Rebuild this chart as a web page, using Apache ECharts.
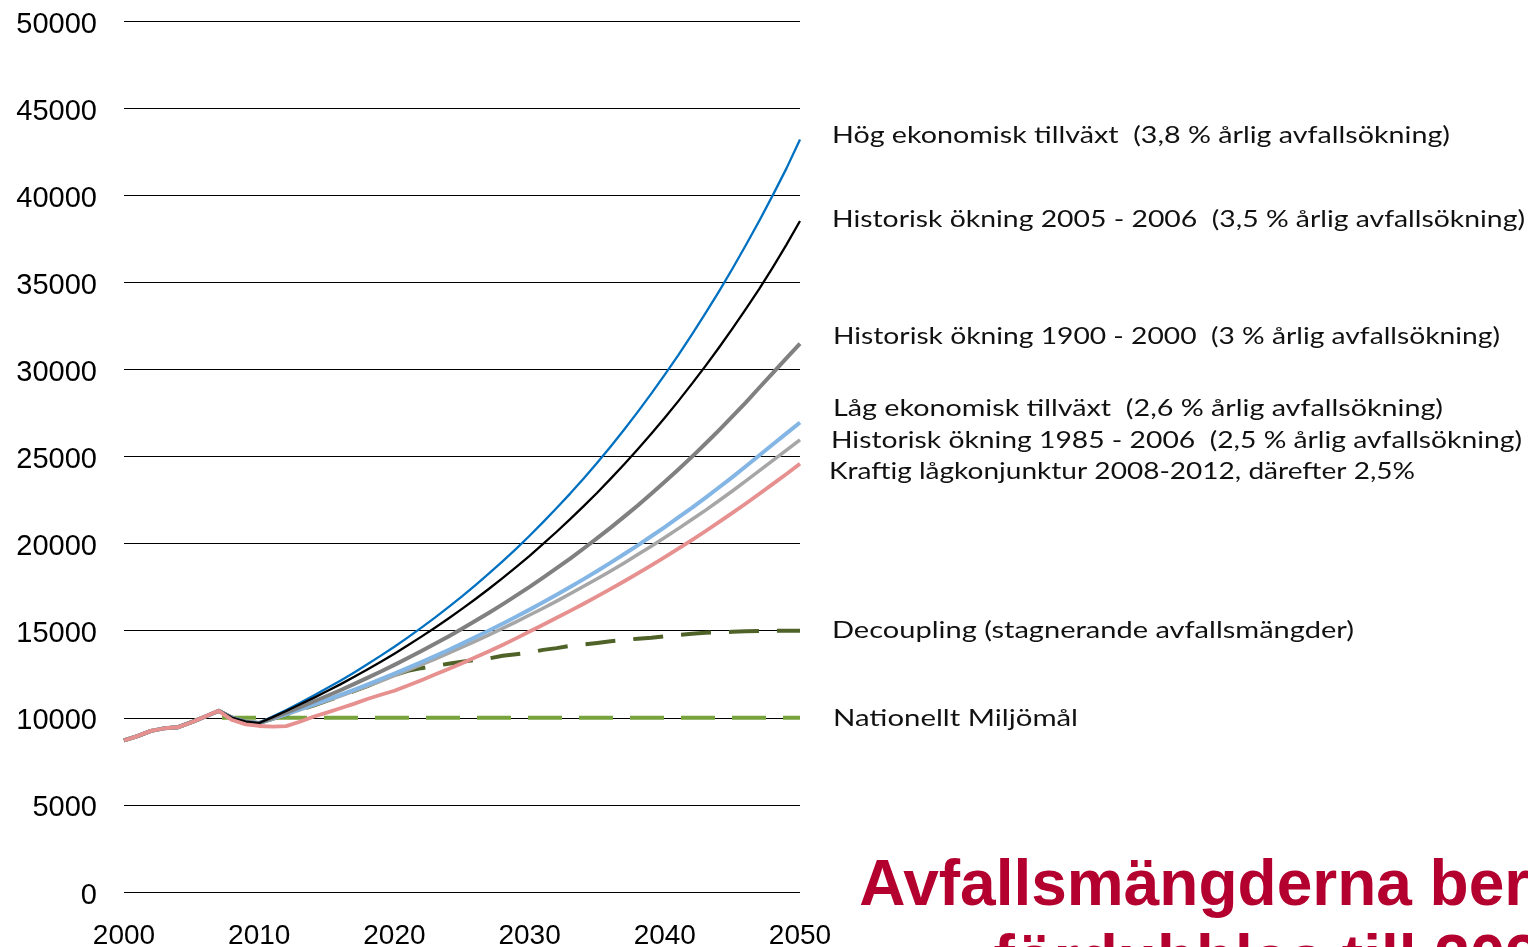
<!DOCTYPE html>
<html>
<head>
<meta charset="utf-8">
<title>Avfallsmängder</title>
<script src="https://cdn.jsdelivr.net/npm/echarts@6/dist/echarts.min.js"></script>
<style>
  html, body { margin: 0; padding: 0; background: #fff; }
  #chart { width: 1528px; height: 947px; }
</style>
</head>
<body>
<div id="chart"></div>
<script>
// data (kton per år), läst från bilden
var xTicks = [2000, 2010, 2020, 2030, 2040, 2050];
var yTicks = [0, 5000, 10000, 15000, 20000, 25000, 30000, 35000, 40000, 45000, 50000];

// historik 2000-2009 (gemensam för alla linjer)
var historik = [8700, 8950, 9250, 9400, 9460, 9750, 10070, 10400, 10000, 9780];

// scenarier 2010-2050
var hogTillvaxt = [9700, 10070, 10450, 10850, 11260, 11690, 12130, 12590, 13070, 13570, 14080,
  14620, 15180, 15750, 16350, 16970, 17620, 18290, 18980, 19700, 20450,
  21230, 22040, 22870, 23740, 24640, 25580, 26550, 27560, 28610, 29700,
  30820, 32000, 33210, 34470, 35780, 37140, 38550, 40020, 41540, 43200];
var hist0506 = [9700, 10040, 10390, 10760, 11130, 11520, 11920, 12340, 12770, 13220, 13680,
  14160, 14660, 15170, 15700, 16250, 16820, 17410, 18020, 18650, 19300,
  19980, 20680, 21400, 22150, 22920, 23730, 24560, 25420, 26310, 27230,
  28180, 29170, 30190, 31240, 32340, 33470, 34640, 35870, 37160, 38520];
var hist1900 = [9700, 9990, 10290, 10600, 10920, 11250, 11580, 11930, 12290, 12660, 13040,
  13430, 13830, 14250, 14670, 15110, 15570, 16030, 16510, 17010, 17520,
  18050, 18590, 19140, 19720, 20310, 20920, 21550, 22190, 22860, 23550,
  24250, 24980, 25730, 26500, 27300, 28110, 28960, 29800, 30650, 31480];
var lagTillvaxt = [9700, 9950, 10210, 10480, 10750, 11030, 11320, 11610, 11910, 12220, 12540,
  12870, 13200, 13540, 13890, 14260, 14630, 15010, 15400, 15800, 16210,
  16630, 17060, 17510, 17960, 18430, 18910, 19400, 19900, 20420, 20950,
  21500, 22050, 22630, 23220, 23820, 24440, 25070, 25700, 26330, 26950];
var hist1985 = [9700, 9940, 10190, 10450, 10710, 10980, 11250, 11530, 11820, 12110, 12420,
  12730, 13050, 13370, 13710, 14050, 14400, 14760, 15130, 15510, 15900,
  16290, 16700, 17120, 17550, 17980, 18430, 18890, 19370, 19850, 20350,
  20860, 21380, 21910, 22460, 23020, 23600, 24190, 24780, 25370, 25960];
var decoupling = [9700, 9943, 10191, 10446, 10707, 10975, 11249, 11530, 11819, 12150, 12450,
  12700, 12850, 12980, 13100, 13220, 13320, 13410, 13560, 13650, 13750,
  13900, 14000, 14130, 14210, 14300, 14400, 14470, 14540, 14600, 14680,
  14750, 14820, 14880, 14910, 14940, 14970, 14990, 15000, 15000, 15000];
// lågkonjunktur 2008-2050
var lagkonjunktur = [9870, 9620, 9530, 9490, 9520, 9770, 10060, 10300, 10550, 10800, 11080, 11320, 11550,
  11850, 12160, 12480, 12800, 13130, 13470, 13820, 14180, 14560, 14950,
  15340, 15740, 16140, 16550, 16970, 17400, 17840, 18290, 18750, 19220,
  19710, 20200, 20710, 21230, 21760, 22300, 22860, 23430, 24000, 24580];
// nationellt miljömål 2007 och 2050
var malAr = [2007, 2050];
var nationelltMal = [10000, 10000];

var etiketter = [
  { text: 'Hög ekonomisk tillväxt  (3,8 % årlig avfallsökning)', x: 832, y: 136, slut: 1450 },
  { text: 'Historisk ökning 2005 - 2006  (3,5 % årlig avfallsökning)', x: 832, y: 220, slut: 1525 },
  { text: 'Historisk ökning 1900 - 2000  (3 % årlig avfallsökning)', x: 833, y: 337, slut: 1500 },
  { text: 'Låg ekonomisk tillväxt  (2,6 % årlig avfallsökning)', x: 833, y: 409, slut: 1443 },
  { text: 'Historisk ökning 1985 - 2006  (2,5 % årlig avfallsökning)', x: 831, y: 441, slut: 1522 },
  { text: 'Kraftig lågkonjunktur 2008-2012, därefter 2,5%', x: 829, y: 472, slut: 1415 },
  { text: 'Decoupling (stagnerande avfallsmängder)', x: 832, y: 631, slut: 1354 },
  { text: 'Nationellt Miljömål', x: 833, y: 719, slut: 1078 }
];

var etikettFont = '23px Lato, "Noto Sans", sans-serif';
var matare = document.createElement('canvas').getContext('2d');
matare.font = etikettFont;

function medHistorik(startAr, varden) {
  var ut = [];
  for (var i = 0; i < historik.length && 2000 + i < startAr; i++) {
    ut.push([2000 + i, historik[i]]);
  }
  for (var j = 0; j < varden.length; j++) {
    ut.push([startAr + j, varden[j]]);
  }
  return ut;
}

function linje(namn, data, farg, bredd, typ) {
  return {
    name: namn,
    type: 'line',
    data: data,
    symbol: 'none',
    silent: true,
    lineStyle: { color: farg, width: bredd, type: typ || 'solid', cap: 'butt', join: 'round' }
  };
}

var malData = medHistorik(2007, []);
for (var k = 0; k < malAr.length; k++) malData.push([malAr[k], nationelltMal[k]]);

var myChart = echarts.init(document.getElementById('chart'));
var option = {
  animation: false,
  backgroundColor: '#fff',
  grid: { left: 124, right: 728, top: 21, bottom: 55, containLabel: false, outerBoundsMode: 'none' },
  xAxis: {
    type: 'value',
    min: xTicks[0],
    max: xTicks[xTicks.length - 1],
    interval: 10,
    axisLine: { show: false },
    axisTick: { show: false },
    splitLine: { show: false },
    axisLabel: {
      margin: 30,
      color: '#000',
      fontFamily: 'Liberation Sans, Arial, sans-serif',
      fontSize: 28,
      formatter: function (v) { return String(v); }
    }
  },
  yAxis: {
    type: 'value',
    min: yTicks[0],
    max: yTicks[yTicks.length - 1],
    interval: 5000,
    axisLine: { show: false },
    axisTick: { show: false },
    splitLine: { lineStyle: { color: '#000', width: 1.2 } },
    axisLabel: {
      margin: 27,
      color: '#000',
      fontFamily: 'Liberation Sans, Arial, sans-serif',
      fontSize: 29,
      verticalAlign: 'top',
      lineHeight: 7,
      formatter: function (v) { return String(v); }
    }
  },
  series: [
    linje('Nationellt Miljömål', malData, '#77a33c', 4, [34, 17]),
    linje('Decoupling', medHistorik(2010, decoupling), '#4f6228', 4, [30, 18]),
    linje('Historisk ökning 1985 - 2006', medHistorik(2010, hist1985), '#a6a6a6', 3.5),
    linje('Låg ekonomisk tillväxt', medHistorik(2010, lagTillvaxt), '#83b6e4', 4),
    linje('Historisk ökning 1900 - 2000', medHistorik(2010, hist1900), '#808080', 4),
    linje('Hög ekonomisk tillväxt', medHistorik(2010, hogTillvaxt), '#0070c0', 2.3),
    linje('Historisk ökning 2005 - 2006', medHistorik(2010, hist0506), '#000000', 2.3),
    linje('Kraftig lågkonjunktur', medHistorik(2008, lagkonjunktur), '#e6908f', 3.8)
  ],
  graphic: etiketter.map(function (e) {
    var bredd = matare.measureText(e.text).width;
    return {
      type: 'text',
      x: e.x,
      y: e.y,
      scaleX: (e.slut - e.x) / bredd,
      style: {
        text: e.text,
        font: etikettFont,
        fill: '#111',
        textVerticalAlign: 'middle'
      }
    };
  }).concat([{
    type: 'text',
    x: 1285,
    y: 850,
    style: {
      text: 'Avfallsmängderna beräknas\nfördubblas till 2030',
      font: 'bold 64px "Liberation Sans", Arial, sans-serif',
      fill: '#b4002e',
      textAlign: 'center',
      textVerticalAlign: 'top',
      lineHeight: 75
    }
  }])
};

myChart.setOption(option);
</script>
</body>
</html>
